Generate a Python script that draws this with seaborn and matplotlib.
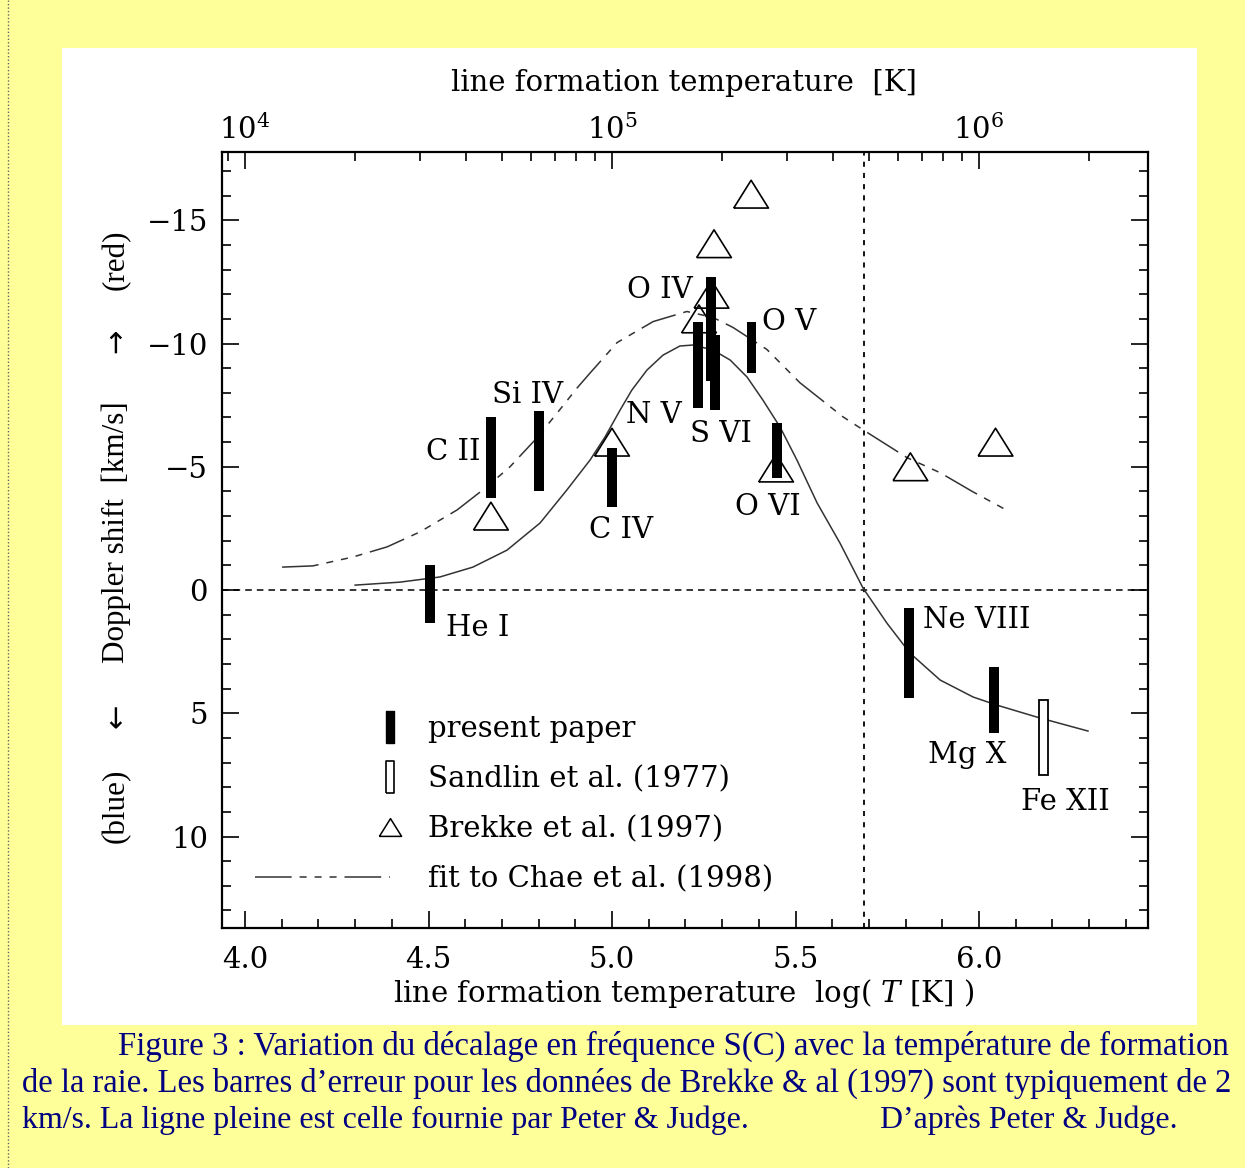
import numpy as np
import pandas as pd
import matplotlib
matplotlib.use("Agg")
import matplotlib.pyplot as plt
import seaborn as sns
from matplotlib.patches import Rectangle
from matplotlib.lines import Line2D
from matplotlib.legend_handler import HandlerLine2D
import matplotlib.ticker as mticker

# ---------------- data ----------------
ions = ["He I", "C II", "Si IV", "C IV", "N V", "O IV", "S VI", "O V", "O VI", "Ne VIII", "Mg X"]
ion_logT = [4.505, 4.67, 4.80, 5.00, 5.235, 5.27, 5.28, 5.38, 5.45, 5.81, 6.04]
shift_low = [-1.0, -7.0, -7.25, -5.78, -10.87, -12.68, -10.33, -10.87, -6.78, 0.74, 3.13]
shift_high = [1.35, -3.74, -4.02, -3.35, -7.39, -8.46, -7.32, -8.81, -4.54, 4.36, 5.81]

sandlin_ions = ["Fe XII"]
sandlin_logT = [6.175]
sandlin_low = [4.47]
sandlin_high = [7.52]

brekke_logT = [4.67, 5.00, 5.237, 5.271, 5.278, 5.379, 5.447, 5.813, 6.045]
brekke_shift = [-3.0, -6.0, -11.0, -12.0, -14.05, -16.06, -4.95, -5.0, -6.0]

peter_judge_logT = [4.300, 4.422, 4.531, 4.621, 4.714, 4.804, 4.877, 4.940, 4.981, 5.022,
                    5.054, 5.095, 5.139, 5.185, 5.221, 5.275, 5.322, 5.368, 5.411, 5.458,
                    5.504, 5.559, 5.621, 5.684, 5.749, 5.812, 5.894, 5.984, 6.049, 6.166,
                    6.297]
peter_judge_shift = [-0.20, -0.32, -0.53, -0.93, -1.62, -2.72, -4.06, -5.27, -6.21, -7.30,
                     -8.11, -8.92, -9.53, -9.90, -9.94, -9.74, -9.33, -8.64, -7.71, -6.61,
                     -5.27, -3.53, -1.91, -0.08, 1.34, 2.56, 3.65, 4.34, 4.67, 5.19,
                     5.72]

chae_logT = [4.101, 4.185, 4.294, 4.387, 4.477, 4.578, 4.659, 4.722, 4.796, 4.858,
             4.905, 4.940, 5.014, 5.112, 5.204, 5.275, 5.330, 5.422, 5.512, 5.629,
             5.684, 5.804, 5.894, 5.984, 6.079]
chae_shift = [-0.93, -0.98, -1.34, -1.75, -2.36, -3.25, -4.19, -5.00, -6.18, -7.32,
              -8.20, -8.80, -10.04, -10.89, -11.30, -11.06, -10.65, -9.76, -8.41, -7.03,
              -6.50, -5.37, -4.76, -3.98, -3.21]

transition_logT = 5.687

legend_labels = ["present paper", "Sandlin et al. (1977)", "Brekke et al. (1997)",
                 "fit to Chae et al. (1998)"]

caption_lines = [
    "Figure 3 : Variation du décalage en fréquence S(C) avec la température de formation",
    "de la raie. Les barres d’erreur pour les données de Brekke & al (1997) sont typiquement de 2",
    "km/s. La ligne pleine est celle fournie par Peter & Judge.",
    "D’après Peter & Judge.",
]

# ---------------- layout ----------------
W, H = 1245, 1168
FS = 21
plt.rcParams['font.family'] = ['DejaVu Serif']
plt.rcParams['mathtext.fontset'] = 'dejavuserif'

# label positions (x, baseline y, ha)
label_pos = {
    "He I": (4.548, 1.87, 'left'), "C II": (4.643, -5.27, 'right'),
    "Si IV": (4.770, -7.58, 'center'), "C IV": (5.025, -2.11, 'center'),
    "N V": (5.114, -6.77, 'center'), "O IV": (5.131, -11.85, 'center'),
    "S VI": (5.298, -6.00, 'center'), "O V": (5.409, -10.55, 'left'),
    "O VI": (5.424, -3.04, 'center'), "Ne VIII": (5.847, 1.54, 'left'),
    "Mg X": (5.969, 7.02, 'center'), "Fe XII": (6.236, 8.92, 'center'),
}

fig = plt.figure(figsize=(W / 100, H / 100), dpi=100)
fig.patch.set_facecolor('#FFFF99')
fig.add_artist(Rectangle((62 / W, 1 - 1025 / H), (1197 - 62) / W, (1025 - 48) / H,
                         transform=fig.transFigure, facecolor='white', edgecolor='none', zorder=0))
fig.add_artist(Line2D([8 / W, 8 / W], [0, 1], transform=fig.transFigure, color='#666666',
                      lw=1, ls=(0, (1, 1.5))))

ax = fig.add_axes([222 / W, 1 - 928 / H, 926 / W, 776 / H])
ax.set_facecolor('white')

# curves
pj = pd.DataFrame({'logT': peter_judge_logT, 'shift': peter_judge_shift})
sns.lineplot(data=pj, x='logT', y='shift', ax=ax, sort=False, estimator=None,
             color='#333333', lw=1.1, zorder=2)
ax.lines[-1].set_solid_joinstyle('round')
ch = pd.DataFrame({'logT': chae_logT, 'shift': chae_shift})
sns.lineplot(data=ch, x='logT', y='shift', ax=ax, sort=False, estimator=None,
             color='#333333', lw=1.1, zorder=2)
chae_dashes = [24, 5.2, 4.6, 5.2, 4.6, 5.2, 4.6, 5.2]
ax.lines[-1].set_dashes(chae_dashes)

# Brekke triangles
tri = [(-1, -0.8), (1, -0.8), (0, 0.8), (-1, -0.8)]
sns.scatterplot(x=brekke_logT, y=brekke_shift, ax=ax, marker=tri, s=625,
                color='black', edgecolor='black', linewidth=1.2, zorder=3)
ax.collections[-1].set_facecolor('none')

# bars
ax.bar(ion_logT, np.subtract(shift_high, shift_low), bottom=shift_low, width=0.027,
       color='black', zorder=4)
ax.bar(sandlin_logT, np.subtract(sandlin_high, sandlin_low), bottom=sandlin_low, width=0.024,
       facecolor='white', edgecolor='black', linewidth=1.3, zorder=4)

# reference lines
ax.axhline(0, color='black', lw=1.1, ls=(0, (4.3, 3.3)), zorder=1)
ax.axvline(transition_logT, color='black', lw=1.3, ls=(0, (2.8, 3.4)), zorder=1)

for name in ions + sandlin_ions:
    x, y, ha = label_pos[name]
    ax.text(x, y, name, ha=ha, va='baseline', fontsize=FS, zorder=5)

ax.set_xlim(3.9373, 6.4605)
ax.set_ylim(13.71, -17.77)
ax.set_xlabel('')
ax.set_ylabel('')
ax.xaxis.set_major_locator(mticker.MultipleLocator(0.5))
ax.xaxis.set_minor_locator(mticker.MultipleLocator(0.1))
ax.yaxis.set_major_locator(mticker.MultipleLocator(5))
ax.yaxis.set_minor_locator(mticker.MultipleLocator(1))
ax.xaxis.set_major_formatter(mticker.FormatStrFormatter('%.1f'))
ax.tick_params(which='both', direction='in', top=False, right=True, width=1.2,
               colors='black', labelsize=FS)
ax.tick_params(which='major', length=12.5)
ax.tick_params(axis='x', which='major', pad=13)
ax.tick_params(axis='y', which='major', pad=10)
ax.tick_params(which='minor', length=6.5)
for sp in ax.spines.values():
    sp.set_linewidth(1.6)
    sp.set_color('black')

# top log-temperature axis
ax2 = ax.twiny()
ax2.set_xscale('log')
ax2.set_xlim(10 ** 3.9373, 10 ** 6.4605)
ax2.xaxis.set_major_locator(mticker.LogLocator(base=10, numticks=10))
ax2.xaxis.set_minor_locator(mticker.LogLocator(base=10, subs=np.arange(2, 10), numticks=30))
ax2.xaxis.set_major_formatter(mticker.LogFormatterMathtext())
ax2.xaxis.set_minor_formatter(mticker.NullFormatter())
ax2.tick_params(which='both', direction='in', top=True, bottom=False, width=1.2,
                labelsize=FS, pad=5)
ax2.tick_params(which='major', length=12)
ax2.tick_params(which='minor', length=6.5)
for sp in ax2.spines.values():
    sp.set_visible(False)

# titles
fig.text(684 / W, 1 - 91 / H, "line formation temperature  [K]", ha='center',
         va='baseline', fontsize=FS)
fig.text(684 / W, 1 - 1002 / H, r"line formation temperature  log( $T$ [K] )", ha='center',
         va='baseline', fontsize=FS)

renderer = fig.canvas.get_renderer()
yfam = ['Liberation Serif', 'DejaVu Serif']
probe = fig.text(0, 0, "Doppler shift  [km/s]", rotation=90, fontsize=20, family=yfam)
ylab_fs = 20 * 262 / probe.get_window_extent(renderer=renderer).height
probe.remove()
for s, yc, fam, fs in [("(red)", 260, yfam, ylab_fs), ("→", 341, ['DejaVu Sans'], FS),
                       ("Doppler shift  [km/s]", 532, yfam, ylab_fs),
                       ("←", 716, ['DejaVu Sans'], FS), ("(blue)", 806, yfam, ylab_fs)]:
    fig.text(116 / W, 1 - yc / H, s, rotation=90, ha='center', va='center',
             fontsize=fs, family=fam)

# legend
bar_marker = [(-0.28, -1), (0.28, -1), (0.28, 1), (-0.28, 1), (-0.28, -1)]
h1 = Line2D([], [], ls='none', marker=bar_marker, markersize=23,
            markerfacecolor='black', markeredgecolor='black')
h2 = Line2D([], [], ls='none', marker=bar_marker, markersize=23,
            markerfacecolor='white', markeredgecolor='black', markeredgewidth=1.2)
h3 = Line2D([], [], ls='none', marker=tri, markersize=16,
            markerfacecolor='none', markeredgecolor='black', markeredgewidth=1.1)
h4 = Line2D([], [], color='#333333', lw=1.1)
h4.set_dashes(chae_dashes)


class RightMarker(HandlerLine2D):
    def get_xdata(self, legend, xdescent, ydescent, width, height, fontsize):
        xe = -xdescent + width
        return np.array([xe]), np.array([xe])


hm = {h: RightMarker(numpoints=2) for h in (h1, h2, h3)}
ax.legend([h1, h2, h3, h4], legend_labels, handler_map=hm, loc='upper left',
          bbox_to_anchor=(255 / W, 1 - 715 / H), bbox_transform=fig.transFigure,
          frameon=False, fontsize=FS, handlelength=4.62, handletextpad=1.3,
          labelspacing=0.76, borderpad=0, borderaxespad=0)

# caption
cap_specs = [(118, 1232, 1055), (22, 1232, 1092), (22, 750, 1128), (880, 1178, 1128)]
for s, (x0, x1, yb) in zip(caption_lines, cap_specs):
    t = fig.text(x0 / W, 1 - yb / H, s, ha='left', va='baseline', fontsize=20,
                 family=['Liberation Serif', 'DejaVu Serif'], color='#000080')
    bb = t.get_window_extent(renderer=renderer)
    t.set_fontsize(20 * (x1 - x0) / bb.width)

fig.savefig('out.png', dpi=100, facecolor=fig.get_facecolor())
